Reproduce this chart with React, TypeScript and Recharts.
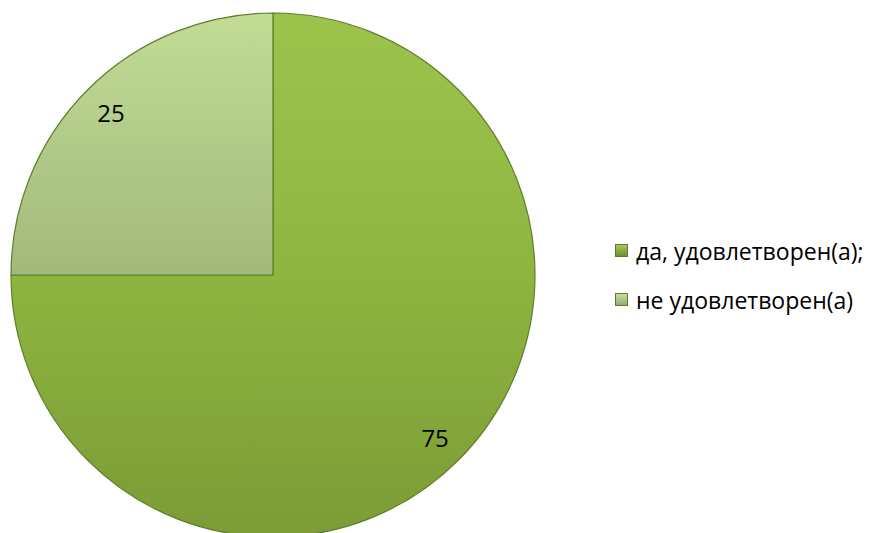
import { PieChart, Pie, Cell, Legend } from 'recharts';

const categories = ['да, удовлетворен(а);', 'не удовлетворен(а)'];
const values = [75, 25];

const fills = ['url(#gMain)', 'url(#gLight)'];
const legendFills = ['url(#sqMain)', 'url(#sqLight)'];

const data = categories.map((name, i) => ({ name, value: values[i] }));

const RAD = Math.PI / 180;

function renderLabel(props: any) {
  const { cx, cy, midAngle, outerRadius, value } = props;
  const r = outerRadius * 0.875;
  const x = cx + r * Math.cos(-midAngle * RAD);
  const y = cy + r * Math.sin(-midAngle * RAD);
  return (
    <text x={x} y={y} textAnchor="middle" dominantBaseline="central" fill="#000" fontSize={24} fontFamily="'Open Sans', 'Noto Sans', sans-serif">
      {value}
    </text>
  );
}

function renderLegend() {
  return (
    <div style={{ fontFamily: "'Open Sans', 'Noto Sans', sans-serif", fontSize: 23, color: '#000' }}>
      {categories.map((c, i) => (
        <div key={c} style={{ display: 'flex', alignItems: 'center', height: 49 }}>
          <svg width={13} height={13} style={{ marginRight: 8 }}>
            <defs>
              <linearGradient id="sqMain" x1="0" y1="0" x2="0" y2="1">
                <stop offset="0%" stopColor="#a6cc5a" />
                <stop offset="100%" stopColor="#6f8c30" />
              </linearGradient>
              <linearGradient id="sqLight" x1="0" y1="0" x2="0" y2="1">
                <stop offset="0%" stopColor="#c8de9e" />
                <stop offset="100%" stopColor="#93a873" />
              </linearGradient>
            </defs>
            <rect x={0.5} y={0.5} width={12} height={12} fill={legendFills[i]} stroke="#5f7a2a" strokeWidth={1} />
          </svg>
          <span>{c}</span>
        </div>
      ))}
    </div>
  );
}

export default function App() {
  return (
    <div style={{ position: 'absolute', top: 0, left: 0, width: 875, height: 533, background: '#fff' }}>
      <PieChart width={875} height={533} margin={{ top: 0, right: 0, bottom: 0, left: 0 }}>
        <defs>
          <linearGradient id="gMain" x1="0" y1="0" x2="0" y2="1">
            <stop offset="0%" stopColor="#9cc44d" />
            <stop offset="50%" stopColor="#8db540" />
            <stop offset="100%" stopColor="#7c9b36" />
          </linearGradient>
          <linearGradient id="gLight" x1="0" y1="0" x2="0" y2="1">
            <stop offset="0%" stopColor="#c2dc95" />
            <stop offset="100%" stopColor="#a2b97c" />
          </linearGradient>
        </defs>
        <Pie
          data={data}
          dataKey="value"
          nameKey="name"
          cx={273}
          cy={275}
          outerRadius={262}
          startAngle={90}
          endAngle={-270}
          stroke="#627d2c"
          strokeWidth={1.2}
          label={renderLabel}
          labelLine={false}
          isAnimationActive={false}
        >
          {data.map((d, i) => (
            <Cell key={d.name} fill={fills[i]} />
          ))}
        </Pie>
        <Legend
          layout="vertical"
          align="right"
          verticalAlign="top"
          content={renderLegend}
          wrapperStyle={{ top: 226, left: 615, width: 260 }}
        />
      </PieChart>
    </div>
  );
}
